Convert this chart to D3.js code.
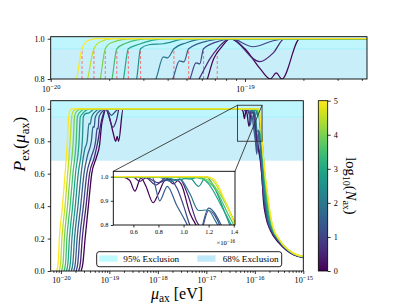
<!DOCTYPE html>
<html><head><meta charset="utf-8">
<script src="https://cdn.jsdelivr.net/npm/d3@7"></script>
<style>
body{margin:0;background:#fff}
svg text{font-family:"Liberation Serif","DejaVu Serif",serif;fill:#000}
</style>
</head><body>
<svg id="c" width="407" height="305"></svg>
<script>
// ---------------- DATA ----------------
const logN = [0, 0.5, 1, 1.5, 2, 2.5, 3, 3.5, 4, 4.5, 5];
// low-mass part: [mu / 1e-20 eV, P_ex]
const lowMass = [
 [[2.62,0],[2.85,0.05],[3.16,0.2],[3.69,0.4],[4.33,0.6],[5.4,0.7],[6.3,0.78],[6.9,0.9],[7.6,0.96],[8.4,1.0],[10,0.95],[12,0.85],[13.5,0.8],[14.5,0.83],[15.5,0.8],[19.2,1.0]],
 [[2.33,0],[2.53,0.05],[2.76,0.2],[3.3,0.4],[3.9,0.6],[4.9,0.7],[5.8,0.8],[6.6,0.9],[7.2,0.95],[8.4,1.0],[11.9,0.886],[14,0.93],[16,1.0]],
 [[2.07,0],[2.24,0.05],[2.44,0.2],[2.91,0.4],[3.43,0.6],[4.2,0.7],[5.21,0.8],[5.6,0.88],[5.85,0.875],[6.12,0.95],[7.5,0.99],[8.5,1.0],[11,0.96],[14,0.99],[16,1.0]],
 [[1.84,0],[1.99,0.05],[2.16,0.2],[2.56,0.4],[3.0,0.6],[3.6,0.72],[4.25,0.8],[4.6,0.89],[4.85,0.885],[5.13,0.95],[6.5,0.99],[8,1.0]],
 [[1.64,0],[1.77,0.05],[1.91,0.2],[2.25,0.4],[2.62,0.6],[3.1,0.75],[3.48,0.8],[3.8,0.91],[4.0,0.905],[4.31,0.95],[5.0,0.98],[6.5,1.0]],
 [[1.46,0],[1.57,0.05],[1.69,0.2],[1.98,0.4],[2.28,0.6],[2.77,0.8],[2.90,0.95],[3.2,0.97],[3.8,0.975],[5.0,1.0]],
 [[1.30,0],[1.40,0.05],[1.50,0.2],[1.75,0.4],[2.00,0.6],[2.37,0.8],[2.51,0.95],[2.8,0.97],[3.96,1.0]],
 [[1.16,0],[1.25,0.05],[1.33,0.2],[1.55,0.4],[1.77,0.6],[2.07,0.8],[2.19,0.95],[2.4,0.975],[3.24,1.0]],
 [[1.03,0],[1.11,0.05],[1.18,0.2],[1.37,0.4],[1.56,0.6],[1.80,0.8],[1.91,0.95],[2.05,0.98],[2.65,1.0]],
 [[0.92,0],[0.99,0.05],[1.05,0.2],[1.22,0.4],[1.38,0.6],[1.55,0.8],[1.67,0.95],[1.8,0.985],[2.09,1.0]],
 [[0.82,0],[0.88,0.05],[0.93,0.2],[1.08,0.4],[1.22,0.6],[1.36,0.8],[1.45,0.95],[1.55,0.99],[1.73,1.0]]
];
// high-mass part: [mu / 1e-16 eV, P_ex]
const highMass = [
 [[0.44,1],[0.52,0.998],[0.57,0.985],[0.612,0.94],[0.66,0.995],[0.70,0.96],[0.758,0.892],[0.80,0.93],[0.851,0.983],[0.93,0.988],[0.98,0.97],[1.05,0.85],[1.10,0.80],[1.2,0.74],[1.3,0.68],[1.42,0.56],[1.5,0.44],[1.7,0.33],[2.1,0.25],[3.2,0.17],[6.2,0.1],[10,0.082]],
 [[0.44,1],[0.6,0.998],[0.65,0.98],[0.7,0.995],[0.78,0.965],[0.86,0.995],[0.92,0.97],[0.97,0.99],[1.03,0.93],[1.1,0.82],[1.2,0.76],[1.3,0.7],[1.45,0.52],[1.55,0.43],[1.8,0.31],[2.15,0.25],[3.25,0.175],[6.2,0.102],[10,0.083]],
 [[0.44,1],[0.7,0.998],[0.8,0.975],[0.88,0.99],[0.95,0.95],[1.0,0.88],[1.05,0.8],[1.12,0.75],[1.2,0.86],[1.27,0.82],[1.35,0.7],[1.5,0.5],[1.6,0.42],[1.85,0.31],[2.2,0.25],[3.3,0.175],[6.2,0.104],[10,0.084]],
 [[0.44,1],[0.75,0.998],[0.81,0.9],[0.87,0.96],[0.944,0.883],[1.0,0.83],[1.03,0.8],[1.1,0.72],[1.2,0.87],[1.3,0.8],[1.4,0.66],[1.55,0.47],[1.65,0.41],[1.9,0.3],[2.2,0.255],[3.3,0.178],[6.2,0.105],[10,0.085]],
 [[0.44,1],[0.8,0.998],[0.9,0.98],[0.97,0.99],[1.05,0.93],[1.12,0.86],[1.195,0.862],[1.25,0.82],[1.32,0.75],[1.45,0.6],[1.6,0.45],[1.7,0.4],[1.9,0.31],[2.2,0.26],[3.3,0.18],[6.2,0.106],[10,0.086]],
 [[0.44,1],[0.85,0.998],[0.95,0.985],[1.05,0.995],[1.12,0.96],[1.18,1.0],[1.25,0.95],[1.33,0.85],[1.4,0.76],[1.55,0.56],[1.7,0.43],[1.95,0.32],[2.24,0.265],[3.3,0.182],[6.2,0.107],[10,0.087]],
 [[0.44,1],[0.95,0.998],[1.05,0.99],[1.12,0.998],[1.2,0.97],[1.3,0.88],[1.4,0.78],[1.55,0.6],[1.75,0.44],[2.0,0.33],[2.24,0.27],[3.3,0.184],[6.2,0.108],[10,0.087]],
 [[0.44,1],[1.05,0.998],[1.15,0.99],[1.25,0.95],[1.35,0.85],[1.42,0.78],[1.6,0.58],[1.8,0.44],[2.05,0.33],[2.3,0.27],[3.3,0.185],[6.2,0.108],[10,0.088]],
 [[0.44,1],[1.1,0.999],[1.2,0.985],[1.3,0.92],[1.4,0.82],[1.6,0.6],[1.85,0.44],[2.1,0.33],[2.3,0.275],[3.3,0.186],[6.2,0.109],[10,0.088]],
 [[0.44,1],[1.15,0.999],[1.22,0.99],[1.32,0.91],[1.41,0.81],[1.6,0.61],[1.88,0.44],[2.1,0.34],[2.3,0.28],[3.3,0.187],[6.2,0.11],[10,0.089]],
 [[0.44,1],[1.17,1.0],[1.24,0.99],[1.33,0.9],[1.41,0.8],[1.6,0.62],[1.9,0.44],[2.12,0.34],[2.3,0.285],[3.3,0.188],[6.2,0.11],[10,0.09]]
];
// 95% crossing markers in the top panel [eV]
const crossMu = [1.45e-20,1.67e-20,1.91e-20,2.19e-20,2.51e-20,2.90e-20,4.31e-20,5.13e-20,6.12e-20,7.2e-20];
const excl95 = 0.95, excl68 = 0.68;
const mainYTicks = [0,0.2,0.4,0.6,0.8,1.0];
const topYTicks = [0.8,1.0];
const insetXTicks = [0.6,0.8,1.0,1.2,1.4];
const insetYTicks = [0.8,0.9,1.0];
const cbTicks = [0,1,2,3,4,5];
const legendLabels = ["95% Exclusion","68% Exclusion"];

// ---------------- SETUP ----------------
const svg = d3.select("#c");
const curves = logN.map((n,i)=>({n, pts: lowMass[i].map(([m,p])=>[m*1e-20,p]).concat(highMass[i].map(([m,p])=>[m*1e-16,p]))}));
const color = n => d3.interpolateViridis(n/5);
const C68 = "#c8eefa", C95 = "#bff6fd", C95line="#a6f3fc";
const P68 = "#bfe8f9", P95 = "#bdfbff";
const FS = 8.2;

const T = {x0:50.7,x1:367,y0:36.7,y1:79};
const M = {x0:50.7,x1:303.3,y0:100.7,y1:271};
const I = {x0:113.3,x1:235,y0:171.3,y1:225};

const xT = d3.scaleLog().domain([1e-20,4.25e-19]).range([T.x0,T.x1]);
const yT = d3.scaleLinear().domain([0.8,1.01]).range([T.y1,T.y0]);
const xM = d3.scaleLog().domain([Math.pow(10,-20.21),1e-15]).range([M.x0,M.x1]);
const yM = d3.scaleLinear().domain([0,1.05]).range([M.y1,M.y0]);
const xI = d3.scaleLinear().domain([0.44e-16,1.41e-16]).range([I.x0,I.x1]);
const yI = d3.scaleLinear().domain([0.8,1.022]).range([I.y1,I.y0]);

const defs = svg.append("defs");
function clip(id,b){defs.append("clipPath").attr("id",id).append("rect").attr("x",b.x0).attr("y",b.y0).attr("width",b.x1-b.x0).attr("height",b.y1-b.y0);}
clip("cT",T);clip("cM",M);clip("cI",I);

function supLabel(sel, base, exp){
  sel.each(function(){
    const t=d3.select(this); t.text(null);
    t.append("tspan").text(base);
    t.append("tspan").attr("dy","-0.45em").attr("dx","0.05em").attr("font-size","0.78em").text(exp);
  });
}
function decadeTicks(lo,hi){const r=[];for(let e=lo;e<=hi;e++)r.push(Math.pow(10,e));return r;}
function minorTicks(scale){
  const [a,b]=scale.domain();const r=[];
  for(let e=Math.floor(Math.log10(a));e<=Math.ceil(Math.log10(b));e++)
    for(let k=2;k<=9;k++){const v=k*Math.pow(10,e); if(v>=a*0.999&&v<=b*1.001)r.push(v);}
  return r;
}
function styleAxis(g,fs){
  g.selectAll(".domain").remove();
  g.selectAll("line").attr("stroke","#000").attr("stroke-width",0.8);
  g.selectAll("text").attr("font-size",fs).attr("fill","#000").attr("font-family",'"Liberation Serif",serif');
}
function box(b,sw){svg.append("rect").attr("x",b.x0).attr("y",b.y0).attr("width",b.x1-b.x0).attr("height",b.y1-b.y0).attr("fill","none").attr("stroke","#000").attr("stroke-width",sw||0.9);}
function bands(b,x,y,g){
  g.append("rect").attr("x",b.x0).attr("width",b.x1-b.x0).attr("y",b.y0).attr("height",Math.max(0,y(excl68)-b.y0)).attr("fill",C68);
  g.append("rect").attr("x",b.x0).attr("width",b.x1-b.x0).attr("y",b.y0).attr("height",y(excl95)-b.y0).attr("fill",C95);
  g.append("line").attr("x1",b.x0).attr("x2",b.x1).attr("y1",y(excl95)).attr("y2",y(excl95)).attr("stroke",C95line).attr("stroke-width",1);
}
function drawCurves(g,x,y,sw){
  const line=d3.line().x(d=>x(d[0])).y(d=>y(d[1])).curve(d3.curveMonotoneX);
  curves.forEach(c=>g.append("path").attr("d",line(c.pts)).attr("fill","none").attr("stroke",color(c.n)).attr("stroke-width",sw));
}

// ---------------- TOP PANEL ----------------
const gT = svg.append("g").attr("clip-path","url(#cT)");
bands(T,xT,yT,gT);
gT.selectAll("line.cross").data(crossMu).enter().append("line")
  .attr("x1",d=>xT(d)).attr("x2",d=>xT(d)).attr("y1",yT(0.8)).attr("y2",yT(excl95))
  .attr("stroke","#f07f86").attr("stroke-width",1.1).attr("stroke-dasharray","3,2");
drawCurves(gT,xT,yT,1.2);
box(T);
let ax = svg.append("g").attr("transform",`translate(0,${T.y1})`).call(d3.axisBottom(xT).tickValues(minorTicks(xT)).tickSize(1.8).tickFormat(""));
styleAxis(ax,FS);
ax = svg.append("g").attr("transform",`translate(0,${T.y1})`).call(d3.axisBottom(xT).tickValues(decadeTicks(-20,-19)).tickSize(3).tickPadding(4));
styleAxis(ax,FS);
ax.selectAll(".tick text").each(function(d){supLabel(d3.select(this),"10","\u2212"+(-Math.round(Math.log10(d))));});
ax = svg.append("g").attr("transform",`translate(${T.x0},0)`).call(d3.axisLeft(yT).tickValues(topYTicks).tickSize(3).tickPadding(3).tickFormat(d3.format(".1f")));
styleAxis(ax,FS);

// ---------------- MAIN PANEL ----------------
const gM = svg.append("g").attr("clip-path","url(#cM)");
bands(M,xM,yM,gM);
drawCurves(gM,xM,yM,1.3);
box(M);
ax = svg.append("g").attr("transform",`translate(0,${M.y1})`).call(d3.axisBottom(xM).tickValues(minorTicks(xM)).tickSize(1.8).tickFormat(""));
styleAxis(ax,FS);
ax = svg.append("g").attr("transform",`translate(0,${M.y1})`).call(d3.axisBottom(xM).tickValues(decadeTicks(-20,-15)).tickSize(3).tickPadding(3.5));
styleAxis(ax,FS);
ax.selectAll(".tick text").each(function(d){supLabel(d3.select(this),"10","\u2212"+(-Math.round(Math.log10(d))));});
ax = svg.append("g").attr("transform",`translate(${M.x0},0)`).call(d3.axisLeft(yM).tickValues(mainYTicks).tickSize(3).tickPadding(3).tickFormat(d3.format(".1f")));
styleAxis(ax,FS);

// zoom rectangle + connectors
const zr = {x0:xM(0.44e-16),x1:xM(1.41e-16),y0:yM(1.022),y1:yM(0.8)};
svg.append("rect").attr("x",zr.x0).attr("y",zr.y0).attr("width",zr.x1-zr.x0).attr("height",zr.y1-zr.y0).attr("fill","none").attr("stroke","#333").attr("stroke-width",0.9);
svg.append("line").attr("x1",I.x0).attr("y1",I.y0).attr("x2",zr.x0).attr("y2",zr.y0).attr("stroke","#333").attr("stroke-width",0.9);
svg.append("line").attr("x1",I.x1).attr("y1",I.y0).attr("x2",zr.x1).attr("y2",zr.y0).attr("stroke","#333").attr("stroke-width",0.9);

// ---------------- INSET ----------------
svg.append("rect").attr("x",I.x0).attr("y",I.y0).attr("width",I.x1-I.x0).attr("height",I.y1-I.y0).attr("fill","#fff");
const gI = svg.append("g").attr("clip-path","url(#cI)");
drawCurves(gI,xI,yI,1.2);
box(I);
ax = svg.append("g").attr("transform",`translate(0,${I.y1})`).call(d3.axisBottom(xI).tickValues(insetXTicks.map(v=>v*1e-16)).tickSize(2.5).tickPadding(2.5).tickFormat(d=>d3.format(".1f")(d/1e-16)));
styleAxis(ax,6.2);
ax = svg.append("g").attr("transform",`translate(${I.x0},0)`).call(d3.axisLeft(yI).tickValues(insetYTicks).tickSize(2.5).tickPadding(2.5).tickFormat(d3.format(".1f")));
styleAxis(ax,6.2);
const off = svg.append("text").attr("x",I.x1).attr("y",245).attr("text-anchor","end").attr("font-size",6.8);
off.append("tspan").text("\u00d710");
off.append("tspan").attr("dy","-0.45em").attr("font-size","0.75em").text("\u221216");

// ---------------- LEGEND ----------------
const lg = svg.append("g");
lg.append("rect").attr("x",96.7).attr("y",251.7).attr("width",185).attr("height",15).attr("rx",2.5).attr("fill","#fff").attr("fill-opacity",0.85).attr("stroke","#222").attr("stroke-width",1);
[[P95,99.3,123.3],[P68,197.3,222.7]].forEach(([c,px,tx],i)=>{
  lg.append("rect").attr("x",px).attr("y",255.4).attr("width",18.2).attr("height",6.3).attr("fill",c);
  lg.append("text").attr("x",tx).attr("y",262).attr("font-size",9.2).text(legendLabels[i]);
});

// ---------------- COLORBAR ----------------
const CB = {x0:318.3,x1:327.7,y0:100.7,y1:271};
const grad = defs.append("linearGradient").attr("id","vir").attr("x1",0).attr("y1",1).attr("x2",0).attr("y2",0);
d3.range(0,1.0001,0.05).forEach(t=>grad.append("stop").attr("offset",t).attr("stop-color",d3.interpolateViridis(t)));
svg.append("rect").attr("x",CB.x0).attr("y",CB.y0).attr("width",CB.x1-CB.x0).attr("height",CB.y1-CB.y0).attr("fill","url(#vir)").attr("stroke","#000").attr("stroke-width",0.8);
const yC = d3.scaleLinear().domain([0,5]).range([CB.y1,CB.y0]);
ax = svg.append("g").attr("transform",`translate(${CB.x1},0)`).call(d3.axisRight(yC).tickValues(cbTicks).tickSize(3).tickPadding(3).tickFormat(d3.format("d")));
styleAxis(ax,FS);

// ---------------- AXIS LABELS ----------------
const xl = svg.append("text").attr("x",177).attr("y",298.5).attr("text-anchor","middle").attr("font-size",16);
xl.append("tspan").attr("font-style","italic").text("\u03bc");
xl.append("tspan").attr("dy",3.5).attr("font-size",11.5).text("ax");
xl.append("tspan").attr("dy",-3.5).text(" [eV]");

const yl = svg.append("text").attr("transform","translate(25,144) rotate(-90)").attr("text-anchor","middle").attr("font-size",17.5);
yl.append("tspan").attr("font-style","italic").text("P");
yl.append("tspan").attr("dy",3.5).attr("font-size",12.5).text("ex");
yl.append("tspan").attr("dy",-3.5).text("(");
yl.append("tspan").attr("font-style","italic").text("\u03bc");
yl.append("tspan").attr("dy",3.5).attr("font-size",12.5).text("ax");
yl.append("tspan").attr("dy",-3.5).text(")");

const cl = svg.append("text").attr("transform","translate(346,186) rotate(90)").attr("text-anchor","middle").attr("font-size",14.5);
cl.append("tspan").text("log");
cl.append("tspan").attr("dy",3.5).attr("font-size",10).text("10");
cl.append("tspan").attr("dy",-3.5).text("(");
cl.append("tspan").attr("font-style","italic").text("N");
cl.append("tspan").attr("dy",3.5).attr("font-size",10).text("ax");
cl.append("tspan").attr("dy",-3.5).text(")");
</script>
</body></html>
